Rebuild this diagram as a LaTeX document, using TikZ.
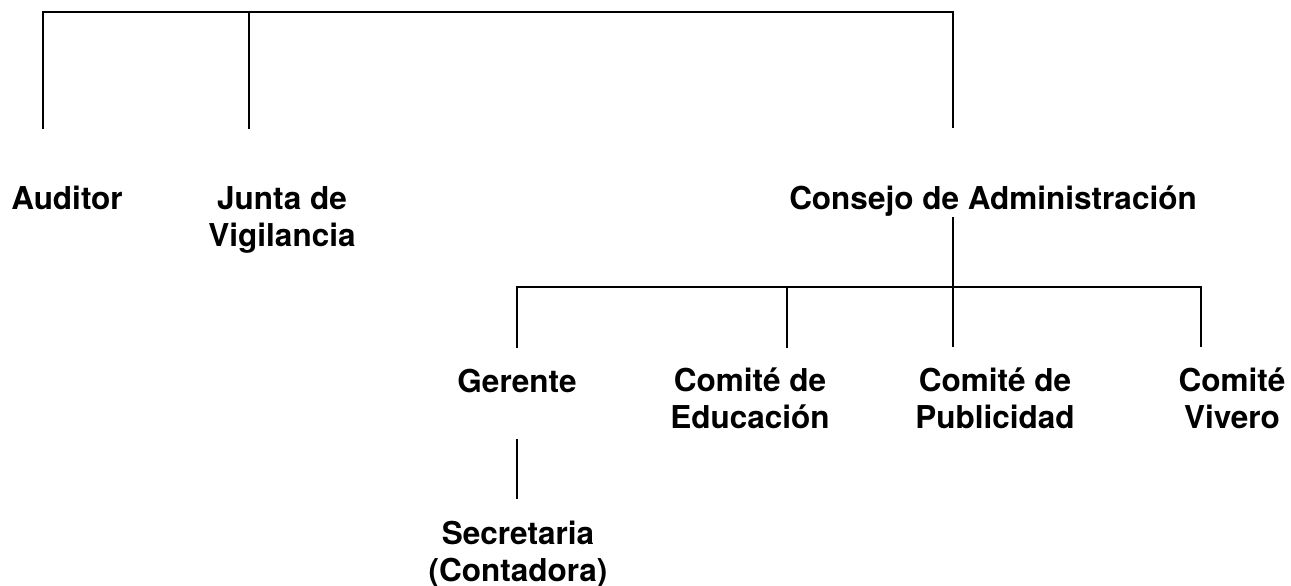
\documentclass[tikz,border=0pt]{standalone}
\usepackage{fontspec}
\setmainfont{TeX Gyre Heros}
\begin{document}
\begin{tikzpicture}[x=1pt,y=-1pt,
  lbl/.style={anchor=north,inner sep=0pt,align=center,font=\fontsize{31.5}{37}\selectfont\bfseries},
  tree/.style={line width=2.6pt,line cap=rect,line join=miter}]
\useasboundingbox[fill=white] (0,0) rectangle (1291,586);
% labels
\node[lbl] (aud) at (67,186) {Auditor};
\node[lbl] (junta) at (282,186) {Junta de\\Vigilancia};
\node[lbl] (cons) at (993,186) {Consejo de Administración};
\node[lbl] (ger) at (517,369) {Gerente};
\node[lbl] (edu) at (750,368) {Comité de\\Educación};
\node[lbl] (pub) at (995,368) {Comité de\\Publicidad};
\node[lbl] (viv) at (1232,368) {Comité\\Vivero};
\node[lbl] (sec) at (518,521) {Secretaria\\(Contadora)};
% line points
\coordinate (tA) at (43,12);
\coordinate (tJ) at (249,12);
\coordinate (tC) at (953,12);
\coordinate (eA) at (43,128);
\coordinate (eJ) at (249,128);
\coordinate (eC) at (953,127);
\coordinate (sC) at (953,218);
\coordinate (bG) at (517,287);
\coordinate (bE) at (787,287);
\coordinate (bV) at (1201,287);
\coordinate (eG) at (517,347);
\coordinate (eE) at (787,347);
\coordinate (eP) at (953,346);
\coordinate (eV) at (1201,346);
\coordinate (sG) at (517,440);
\coordinate (eS) at (517,498);
% connectors
\draw[tree] (eA) -- (tA) -- (tC) -- (eC);
\draw[tree] (tJ) -- (eJ);
\draw[tree] (sC) -- (eP);
\draw[tree] (eG) -- (bG) -- (bV) -- (eV);
\draw[tree] (bE) -- (eE);
\draw[tree] (sG) -- (eS);
\end{tikzpicture}
\end{document}
